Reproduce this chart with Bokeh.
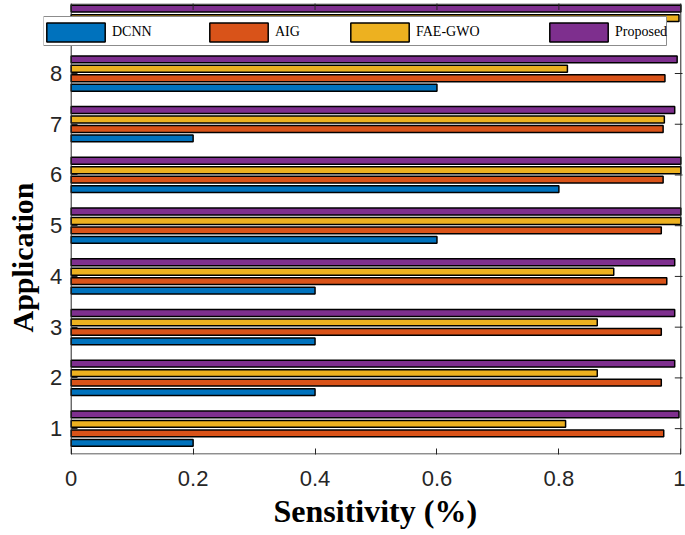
from bokeh.plotting import figure
from bokeh.models import (Range1d, FixedTicker, Legend, LegendItem,
                          BoxAnnotation, ColumnDataSource, Title)
from bokeh.transform import dodge
from bokeh.embed import file_html
from bokeh.resources import INLINE
import math

# ---- data ----
apps = [1, 2, 3, 4, 5, 6, 7, 8, 9]
dcnn = [0.20, 0.40, 0.40, 0.40, 0.60, 0.80, 0.20, 0.60, 0.40]
aig = [0.972, 0.968, 0.968, 0.977, 0.968, 0.971, 0.971, 0.974, 0.970]
fae_gwo = [0.811, 0.863, 0.863, 0.890, 1.000, 1.000, 0.973, 0.814, 0.997]
proposed = [0.997, 0.990, 0.990, 0.990, 1.000, 1.000, 0.990, 0.994, 1.000]

series_names = ["DCNN", "AIG", "FAE-GWO", "Proposed"]
series_keys = ["dcnn", "aig", "fae", "prop"]
colors = ["#0072BD", "#D95319", "#EDB120", "#7E2F8E"]
offsets = [-0.28, -0.093, 0.093, 0.28]

x_ticks = [0, 0.2, 0.4, 0.6, 0.8, 1]
x_tick_labels = ["0", "0.2", "0.4", "0.6", "0.8", "1"]
y_ticks = [1, 2, 3, 4, 5, 6, 7, 8]
x_title = "Sensitivity (%)"
y_title = "Application"

# axes box limits (data units)
X0, X1 = 0.0, 1.0
Y0, Y1 = 0.50, 9.37

src = ColumnDataSource(dict(app=apps, dcnn=dcnn, aig=aig, fae=fae_gwo, prop=proposed))

p = figure(width=685, height=535,
           x_range=Range1d(-0.04544, 1.00279), y_range=Range1d(0.49, 9.38),
           output_backend="svg", toolbar_location=None,
           min_border_left=43, min_border_right=3, min_border_top=3, min_border_bottom=81)

renderers = []
for key, col, off in zip(series_keys, colors, offsets):
    r = p.hbar(y=dodge("app", off, range=p.y_range), right=key, left=0, height=0.135,
               source=src, fill_color=col, line_color="black", line_width=1.5)
    renderers.append(r)

ax_col = "#262626"
# inward box ticks on top and right edges (half of each dash is clipped away)
p.scatter(x=x_ticks, y=[Y1] * len(x_ticks), marker="dash", angle=math.pi / 2, size=12,
          line_color=ax_col, line_width=1)
p.scatter(x=[X1] * len(y_ticks), y=y_ticks, marker="dash", size=12,
          line_color=ax_col, line_width=1)

p.xgrid.visible = False
p.ygrid.visible = False
p.outline_line_color = None

p.xaxis.ticker = FixedTicker(ticks=x_ticks)
p.xaxis.major_label_overrides = {t: l for t, l in zip(x_ticks, x_tick_labels)}
p.yaxis.ticker = FixedTicker(ticks=y_ticks)
p.yaxis.fixed_location = 0
for ax in (p.xaxis[0], p.yaxis[0]):
    ax.major_tick_in = 6
    ax.major_tick_out = 0
    ax.minor_tick_line_color = None
    ax.axis_line_color = None
    ax.major_tick_line_color = ax_col
    ax.major_label_text_font = "Liberation Sans"
    ax.major_label_text_font_size = "22px"
    ax.major_label_text_color = ax_col
p.xaxis.major_label_standoff = 16
p.yaxis.major_label_standoff = 9

# axis titles as side-panel titles
p.add_layout(Title(text=x_title, align="left", offset=230, standoff=4,
                   text_font="Liberation Serif", text_font_style="bold",
                   text_font_size="32px", text_color="black"), "below")
p.add_layout(Title(text=y_title, align="left", offset=122, standoff=6,
                   vertical_align="top",
                   text_font="Liberation Serif", text_font_style="bold",
                   text_font_size="30px", text_color="black"), "left")

# axes box
axes_box = BoxAnnotation(left=X0, right=X1, bottom=Y0, top=Y1,
                         fill_alpha=0, line_color=ax_col, line_alpha=1.0, line_width=1)
p.add_layout(axes_box)

# legend box
box = BoxAnnotation(left=43, right=666, top=16, bottom=45,
                    left_units="canvas", right_units="canvas",
                    top_units="canvas", bottom_units="canvas",
                    fill_color="white", fill_alpha=1.0,
                    line_color="#8c8c8c", line_alpha=1.0, line_width=1)
p.add_layout(box)

leg_x = [-4, 159, 300, 499]
for name, r, vx in zip(series_names, renderers, leg_x):
    leg = Legend(items=[LegendItem(label=name, renderers=[r])], location=(vx, 410),
                 orientation="horizontal", padding=0, margin=0, spacing=0,
                 glyph_width=73, glyph_height=24, label_standoff=0, label_height=24,
                 label_text_font="Liberation Serif", label_text_font_size="14px",
                 label_text_color="black",
                 border_line_alpha=0, background_fill_alpha=0)
    p.add_layout(leg, "center")

open("out.html", "w").write(file_html(p, INLINE))
